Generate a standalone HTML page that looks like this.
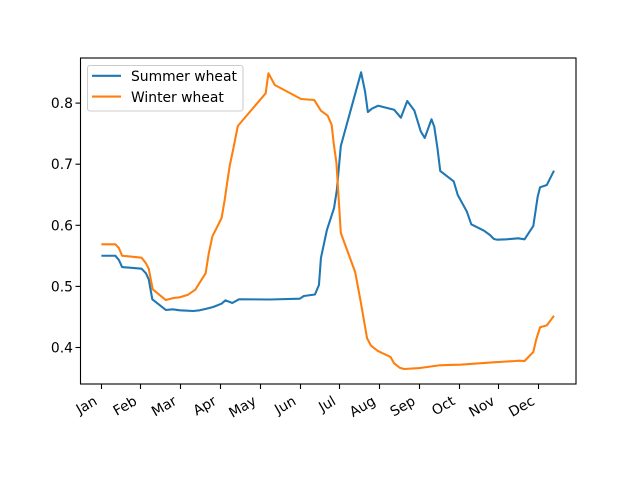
<!DOCTYPE html>
<html lang="en">
<head>
<meta charset="utf-8">
<title>Summer and winter wheat</title>
<style>
html,body{margin:0;padding:0;background:#fff;}
svg{display:block;}
text{font-family:"DejaVu Sans","Liberation Sans",sans-serif;font-size:13.89px;fill:#000;}
</style>
</head>
<body>
<svg id="chart" xmlns="http://www.w3.org/2000/svg" width="640" height="480" viewBox="0 0 640 480">
  <rect x="0" y="0" width="640" height="480" fill="#fff"/>
  <g id="series"></g>
  <g id="ticks"></g>
  <rect x="80.5" y="58" width="495.5" height="326" fill="none" stroke="#000" stroke-width="1.1"/>
  <g>
    <rect x="87.5" y="65.5" width="155.5" height="45.5" rx="2.5" fill="#fff" fill-opacity="0.8" stroke="#ccc" stroke-width="1.1"/>
    <line x1="92" y1="75.8" x2="121" y2="75.8" stroke="#1f77b4" stroke-width="2.08"/>
    <text x="131" y="81">Summer wheat</text>
    <line x1="92" y1="96.6" x2="121" y2="96.6" stroke="#ff7f0e" stroke-width="2.08"/>
    <text x="131" y="102">Winter wheat</text>
  </g>
</svg>
<script>
const monthLabels = ["Jan","Feb","Mar","Apr","May","Jun","Jul","Aug","Sep","Oct","Nov","Dec"];
const yTickValues = [0.4,0.5,0.6,0.7,0.8];
const summerMonths = [0,0.35,0.44,0.52,1.01,1.12,1.19,1.28,1.62,1.79,1.97,2.31,2.47,2.64,2.81,3.02,3.12,3.29,3.46,4.24,4.99,5.09,5.37,5.47,5.52,5.67,5.85,5.92,6.02,6.53,6.63,6.70,6.80,6.96,7.36,7.53,7.69,7.87,8.03,8.13,8.30,8.37,8.45,8.52,8.86,8.96,9.19,9.30,9.62,9.77,9.87,9.96,10.19,10.48,10.64,10.86,10.92,10.97,11.03,11.20,11.38];
const summerValues = [0.5502,0.5502,0.5432,0.5317,0.529,0.5214,0.5116,0.4789,0.4614,0.4625,0.4609,0.4597,0.4609,0.4635,0.4663,0.4717,0.4772,0.4728,0.4789,0.4786,0.4799,0.4843,0.4867,0.5023,0.5465,0.5923,0.6283,0.6578,0.7298,0.8504,0.8187,0.7854,0.7908,0.7957,0.7892,0.7761,0.8034,0.7876,0.7538,0.7429,0.7735,0.7614,0.726,0.6889,0.6717,0.6496,0.6223,0.6016,0.5912,0.5841,0.5776,0.5764,0.5771,0.5787,0.5771,0.5989,0.625,0.6468,0.6622,0.666,0.6894];
const winterMonths = [0,0.35,0.44,0.52,1.01,1.12,1.19,1.29,1.62,1.81,1.97,2.18,2.36,2.62,2.70,2.79,3.02,3.10,3.16,3.23,3.31,3.43,4.13,4.20,4.36,5.02,5.35,5.52,5.69,5.79,5.84,5.91,6.02,6.38,6.52,6.68,6.78,6.95,7.27,7.36,7.50,7.61,8.01,8.51,8.77,9.02,9.86,10.41,10.49,10.64,10.86,10.93,11.03,11.20,11.38];
const winterValues = [0.5689,0.5689,0.5628,0.5502,0.547,0.5378,0.529,0.4953,0.4777,0.481,0.4822,0.4864,0.4946,0.5214,0.5542,0.5818,0.6115,0.6414,0.6687,0.6987,0.7232,0.7625,0.816,0.8488,0.8296,0.8067,0.8051,0.7876,0.7794,0.7642,0.7347,0.702,0.5874,0.5236,0.475,0.4151,0.4029,0.3943,0.3845,0.3741,0.3669,0.3648,0.3664,0.3709,0.3714,0.3719,0.3758,0.3779,0.3784,0.3779,0.3926,0.4123,0.4331,0.4363,0.452];

const NS = "http://www.w3.org/2000/svg";
function xScale(month){ return 101.4 + month * 39.77; }
function yScale(value){ return 347.5 - (value - 0.4) * 611; }
function tickPixel(month){ return Math.floor(xScale(month) - 0.2) + 0.5; }

function drawLine(months, values, color, name){
  const line = document.createElementNS(NS, "polyline");
  line.setAttribute("points", months.map(function(m, i){
    return xScale(m).toFixed(2) + "," + yScale(values[i]).toFixed(2);
  }).join(" "));
  line.setAttribute("fill", "none");
  line.setAttribute("stroke", color);
  line.setAttribute("stroke-width", "2.08");
  line.setAttribute("stroke-linejoin", "round");
  
  
  document.getElementById("series").appendChild(line);
}
drawLine(summerMonths, summerValues, "#1f77b4", "summer-wheat-line");
drawLine(winterMonths, winterValues, "#ff7f0e", "winter-wheat-line");

const tickGroup = document.getElementById("ticks");
monthLabels.forEach(function(label, i){
  const x = tickPixel(i);
  const tick = document.createElementNS(NS, "line");
  tick.setAttribute("x1", x);
  tick.setAttribute("x2", x);
  tick.setAttribute("y1", 384);
  tick.setAttribute("y2", 389);
  tick.setAttribute("stroke", "#000");
  tick.setAttribute("stroke-width", "1.1");
  
  
  tickGroup.appendChild(tick);
  const text = document.createElementNS(NS, "text");
  text.textContent = label;
  text.setAttribute("text-anchor", "end");
  text.setAttribute("transform", "translate(" + (xScale(i) - 3.3) + " 403.7) rotate(-30)");
  
  
  tickGroup.appendChild(text);
});
yTickValues.forEach(function(value){
  const y = yScale(value);
  const tick = document.createElementNS(NS, "line");
  tick.setAttribute("x1", 75.5);
  tick.setAttribute("x2", 80.5);
  tick.setAttribute("y1", y);
  tick.setAttribute("y2", y);
  tick.setAttribute("stroke", "#000");
  tick.setAttribute("stroke-width", "1.1");
  
  
  tickGroup.appendChild(tick);
  const text = document.createElementNS(NS, "text");
  text.textContent = value.toFixed(1);
  text.setAttribute("x", 73);
  text.setAttribute("y", y + 5);
  text.setAttribute("text-anchor", "end");
  
  
  tickGroup.appendChild(text);
});
</script>
</body>
</html>
